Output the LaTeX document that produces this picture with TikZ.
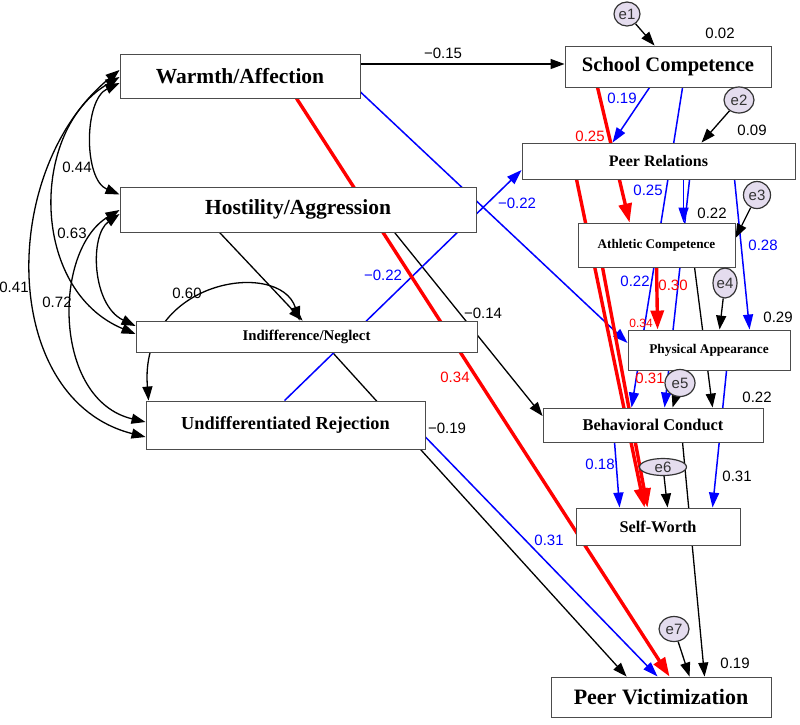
\documentclass[tikz,border=0pt]{standalone}
\usepackage{fontspec}
\setmainfont{Liberation Serif}
\newfontfamily\numfont{Liberation Sans}
\usetikzlibrary{arrows.meta,shapes.geometric,calc}
\definecolor{errfill}{RGB}{228,220,238}
\pgfdeclarelayer{bg}
\pgfsetlayers{bg,main}
\newcommand\setfs[1]{\fontsize{#1}{#1}\selectfont}
\begin{document}
\begin{tikzpicture}[x=1pt,y=-1pt,
  box/.style={draw=black!70, fill=white, line width=0.9pt, inner sep=0pt},
  err/.style={ellipse, draw=black!80, fill=errfill, line width=1.2pt, inner sep=0pt, text=black!80, font=\numfont\setfs{15}},
  lab/.style={inner sep=0pt, font=\numfont\setfs{15}},
  kpath/.style={draw=black, line width=1.3pt, -{Triangle[length=14pt,width=10pt]}},
  bpath/.style={draw=blue, line width=1.5pt, -{Triangle[length=15pt,width=10pt]}},
  rpath/.style={draw=red, line width=3.4pt, -{Triangle[length=19pt,width=13pt]}},
  cov/.style={draw=black, line width=1.3pt, {Triangle[length=14pt,width=10pt]}-{Triangle[length=14pt,width=10pt]}}
]
\useasboundingbox (0,0) rectangle (800,724);

% boxes
\node[box, minimum width=240pt, minimum height=44pt, font=\bfseries\setfs{21.5}] (wa) at (240,76) {Warmth/Affection};
\node[box, minimum width=356pt, minimum height=45pt, font=\bfseries\setfs{21.5}] (ha) at (298,209.5) {Hostility/Aggression};
\node[box, minimum width=341pt, minimum height=31pt, font=\bfseries\setfs{14.8}] (ind) at (306.5,336.5) {Indifference/Neglect};
\node[box, minimum width=279pt, minimum height=48pt, font=\bfseries\setfs{18.3}] (ur) at (285.5,425) {Undifferentiated Rejection};
\node[box, minimum width=206pt, minimum height=41pt, font=\bfseries\setfs{20.6}] (sc) at (668,66.5) {School Competence};
\node[box, minimum width=273pt, minimum height=36pt, font=\bfseries\setfs{16}] (pr) at (658.5,161) {Peer Relations};
\node[box, minimum width=157pt, minimum height=44pt, font=\bfseries\setfs{13.2}] (ac) at (656.5,245) {Athletic Competence};
\node[box, minimum width=162pt, minimum height=40pt, font=\bfseries\setfs{13.3}] (pa) at (709,350) {Physical Appearance};
\node[box, minimum width=220pt, minimum height=34pt, font=\bfseries\setfs{16.4}] (bc) at (653,425) {Behavioral Conduct};
\node[box, minimum width=164pt, minimum height=37pt, font=\bfseries\setfs{16.3}] (sw) at (658,526.5) {Self-Worth};
\node[box, minimum width=220pt, minimum height=40pt, font=\bfseries\setfs{22}] (pv) at (661,697) {Peer Victimization};

% error terms
\node[err, minimum width=26pt, minimum height=24pt] (e1) at (627,14) {e1};
\node[err, minimum width=30pt, minimum height=26pt] (e2) at (739,100) {e2};
\node[err, minimum width=27pt, minimum height=27pt] (e3) at (757,195) {e3};
\node[err, minimum width=24pt, minimum height=30pt] (e4) at (725,283) {e4};
\node[err, minimum width=30pt, minimum height=27pt] (e5) at (680,383) {e5};
\node[err, minimum width=47pt, minimum height=17pt] (e6) at (663,467) {e6};
\node[err, minimum width=30pt, minimum height=25pt] (e7) at (674,629) {e7};

% labels
\node[lab] (l01) at (443,53) {−0.15};
\node[lab] (l02) at (77,167) {0.44};
\node[lab] (l03) at (72,233) {0.63};
\node[lab] (l04) at (14,287) {0.41};
\node[lab] (l05) at (57,302) {0.72};
\node[lab] (l06) at (187,293) {0.60};
\node[lab, text=blue] (l07) at (517,203) {−0.22};
\node[lab, text=blue] (l08) at (383,275) {−0.22};
\node[lab] (l09) at (483,313) {−0.14};
\node[lab, text=red] (l10) at (455,377) {0.34};
\node[lab] (l11) at (447,428) {−0.19};
\node[lab, text=blue] (l12) at (549,540) {0.31};
\node[lab] (l13) at (720,33) {0.02};
\node[lab, text=blue] (l14) at (622,98) {0.19};
\node[lab, text=red] (l15) at (590,136) {0.25};
\node[lab] (l16) at (752,130) {0.09};
\node[lab, text=blue] (l17) at (648,190) {0.25};
\node[lab] (l18) at (712,213) {0.22};
\node[lab, text=blue] (l19) at (763,245) {0.28};
\node[lab, text=blue] (l20) at (635,281) {0.22};
\node[lab, text=red] (l21) at (673,285) {0.30};
\node[lab, text=red, font=\numfont\setfs{12}] (l22) at (641,323) {0.34};
\node[lab] (l23) at (778,317) {0.29};
\node[lab, text=red] (l24) at (650,378) {0.31};
\node[lab] (l25) at (757,397) {0.22};
\node[lab, text=blue] (l26) at (600,464) {0.18};
\node[lab] (l27) at (737,476) {0.31};
\node[lab] (l28) at (735,663) {0.19};

\begin{pgfonlayer}{bg}
\fill[white] (0,0) rectangle (800,724);
% covariances
\draw[cov] ([yshift=-7pt]wa.west) .. controls +(-36,17) and +(-36,-15) .. ([yshift=15pt]ha.west);
\draw[cov] ([yshift=-1pt]wa.west) .. controls +(-90,53) and +(-106,-44) .. ([yshift=2.5pt]ind.west);
\draw[cov] ([yshift=6pt]wa.west) .. controls +(-122,100) and +(-146,-37) .. ([yshift=-12pt]ur.west);
\draw[cov] ([yshift=-4.5pt]ha.west) .. controls +(-30,21) and +(-44,-21) .. ([yshift=10.5pt]ind.west);
\draw[cov] ([yshift=-0.5pt]ha.west) .. controls +(-67,40) and +(-93,-22) .. ([yshift=3pt]ur.west);
\draw[cov] ([xshift=164pt]ind.north west) .. controls +(-20,-62) and +(-10,-121) .. ([xshift=3pt]ur.north west);

% black paths
\draw[kpath] ([yshift=12pt]wa.east) -- ([yshift=2.5pt]sc.west);
\draw[kpath] ([xshift=100pt]ha.south west) -- ([xshift=167pt]ind.north west);
\draw[kpath] ([xshift=275pt]ha.south west) -- ([yshift=9pt]bc.west);
\draw[kpath] ([xshift=197pt]ind.south west) -- ([xshift=76pt]pv.north west);
\draw[kpath] ([xshift=117pt]ac.south west) -- ([xshift=170pt]bc.north west);
\draw[kpath] ([xshift=140pt]bc.south west) -- ([xshift=154pt]pv.north west);

% blue paths
\draw[bpath] ([yshift=-16pt]wa.east) -- ([yshift=7pt]pa.west);
\draw[bpath] ([xshift=139pt]ur.north west) -- ([yshift=-9pt]pr.west);
\draw[bpath] ([yshift=-12pt]ur.east) -- ([xshift=107pt]pv.north west);
\draw[bpath] ([xshift=85pt]sc.south west) -- ([xshift=91pt]pr.north west);
\draw[bpath] ([xshift=118pt]sc.south west) -- ([xshift=89pt]bc.north west);
\draw[bpath] ([xshift=162pt]pr.south west) -- ([xshift=106pt]ac.north west);
\draw[bpath] ([xshift=168pt]pr.south west) -- ([xshift=122pt]bc.north west);
\draw[bpath] ([xshift=213pt]pr.south west) -- ([xshift=122pt]pa.north west);
\draw[bpath] ([xshift=72pt]bc.south west) -- ([xshift=44pt]sw.north west);
\draw[bpath] ([xshift=99pt]pa.south west) -- ([xshift=137pt]sw.north west);

% red paths
\draw[rpath] ([xshift=177pt]wa.south west) -- ([xshift=119pt]pv.north west);
\draw[rpath] ([xshift=33pt]sc.south west) -- ([xshift=52pt]ac.north west);
\draw[rpath] ([xshift=79pt]ac.south west) -- ([xshift=30pt]pa.north west);
\draw[rpath] ([xshift=55pt]pr.south west) -- ([xshift=69pt]sw.north west);
\draw[rpath] ([xshift=25pt]ac.south west) -- ([xshift=72pt]sw.north west);

% error arrows
\draw[kpath] (e1) -- ([xshift=90pt]sc.north west);
\draw[kpath] (e2) -- ([xshift=180pt]pr.north west);
\draw[kpath] (e3) -- ([yshift=7pt]ac.east);
\draw[kpath] (e4) -- ([xshift=92pt]pa.north west);
\draw[kpath] (e5) -- ([xshift=130pt]bc.north west);
\draw[kpath] (e6) -- ([xshift=92pt]sw.north west);
\draw[kpath] (e7) -- ([xshift=139pt]pv.north west);
\end{pgfonlayer}
\end{tikzpicture}
\end{document}
